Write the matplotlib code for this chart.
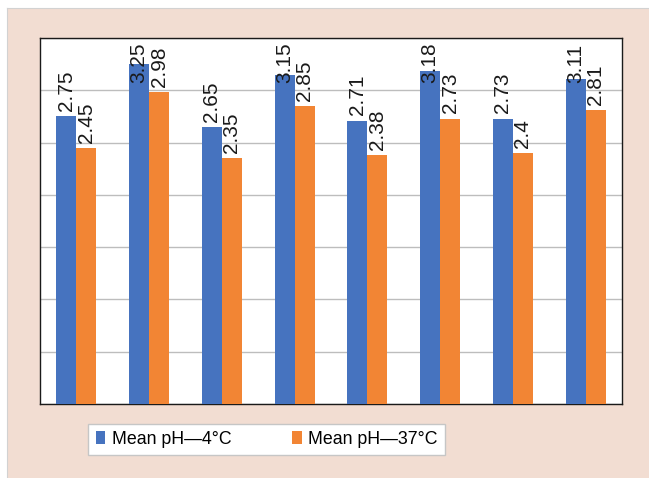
import matplotlib
matplotlib.use("Agg")
import matplotlib.pyplot as plt
import numpy as np
from matplotlib.patches import Rectangle
from matplotlib.lines import Line2D

plt.rcParams['font.family'] = ['Liberation Sans', 'DejaVu Sans']

# Mean pH per sample group at the two storage temperatures
groups = ["1", "2", "3", "4", "5", "6", "7", "8"]
ph_4c = [2.75, 3.25, 2.65, 3.15, 2.71, 3.18, 2.73, 3.11]
ph_37c = [2.45, 2.98, 2.35, 2.85, 2.38, 2.73, 2.40, 2.81]
ph_4c_labels = ["2.75", "3.25", "2.65", "3.15", "2.71", "3.18", "2.73", "3.11"]
ph_37c_labels = ["2.45", "2.98", "2.35", "2.85", "2.38", "2.73", "2.4", "2.81"]
series_names = ["Mean pH\u20144\u00b0C", "Mean pH\u201437\u00b0C"]

blue = "#4673bf"
orange = "#f28534"
pink = "#f2ddd2"

W, H = 649, 478
fig = plt.figure(figsize=(W / 100, H / 100), dpi=100)
fig.patch.set_facecolor("white")

# pink panel behind the chart, with a faint rule on its top and left edges
px0, py1 = 7 / W, 1 - 7.5 / H
panel = Rectangle((px0, 0), 1 - px0, py1, transform=fig.transFigure,
                  facecolor=pink, edgecolor="none", zorder=-10)
fig.patches.append(panel)
fig.lines.append(Line2D([px0, 1], [py1, py1], transform=fig.transFigure,
                        color="#d2d2d2", linewidth=0.8, zorder=-9))
fig.lines.append(Line2D([px0, px0], [0, py1], transform=fig.transFigure,
                        color="#d2d2d2", linewidth=0.8, zorder=-9))

ax = fig.add_axes([40 / W, 1 - 404 / H, 582 / W, 366 / H])
ax.set_facecolor("white")

x = np.arange(len(groups))
bw = 0.275
b1 = ax.bar(x - bw / 2, ph_4c, bw, color=blue, label=series_names[0], zorder=3)
b2 = ax.bar(x + bw / 2, ph_37c, bw, color=orange, label=series_names[1], zorder=3)

ax.set_ylim(0, 3.5)
ax.set_xlim(-0.5, len(groups) - 0.5)
ax.set_yticks(np.arange(0, 3.51, 0.5))
ax.grid(axis="y", color="#bdbdbd", linewidth=1.0, zorder=1)
ax.tick_params(left=False, bottom=False, labelleft=False, labelbottom=False)
for s in ax.spines.values():
    s.set_color("#1a1a1a")
    s.set_linewidth(1.0)

# value labels, kept inside the plot area near the top
for xs, vals, labs in ((x - bw / 2, ph_4c, ph_4c_labels), (x + bw / 2, ph_37c, ph_37c_labels)):
    for xi, v, t in zip(xs, vals, labs):
        y0 = min(v + 0.05, 3.07)
        ax.text(xi, y0, t, rotation=90, ha="center", va="bottom",
                fontsize=15, color="#1a1a1a", zorder=5)

leg = fig.legend(handles=[b1, b2], labels=series_names, loc="center",
                 bbox_to_anchor=(266.5 / W, 1 - 439.5 / H), ncol=2,
                 fontsize=12.8, frameon=True, fancybox=False, framealpha=1,
                 handlelength=0.55, handleheight=0.72, handletextpad=0.35,
                 columnspacing=3.4, borderpad=0.42, borderaxespad=0)
leg.get_frame().set_edgecolor("#c6c6c6")
leg.get_frame().set_linewidth(1.0)
leg.get_frame().set_facecolor("white")

fig.savefig("out.png", dpi=100, facecolor=fig.get_facecolor())
